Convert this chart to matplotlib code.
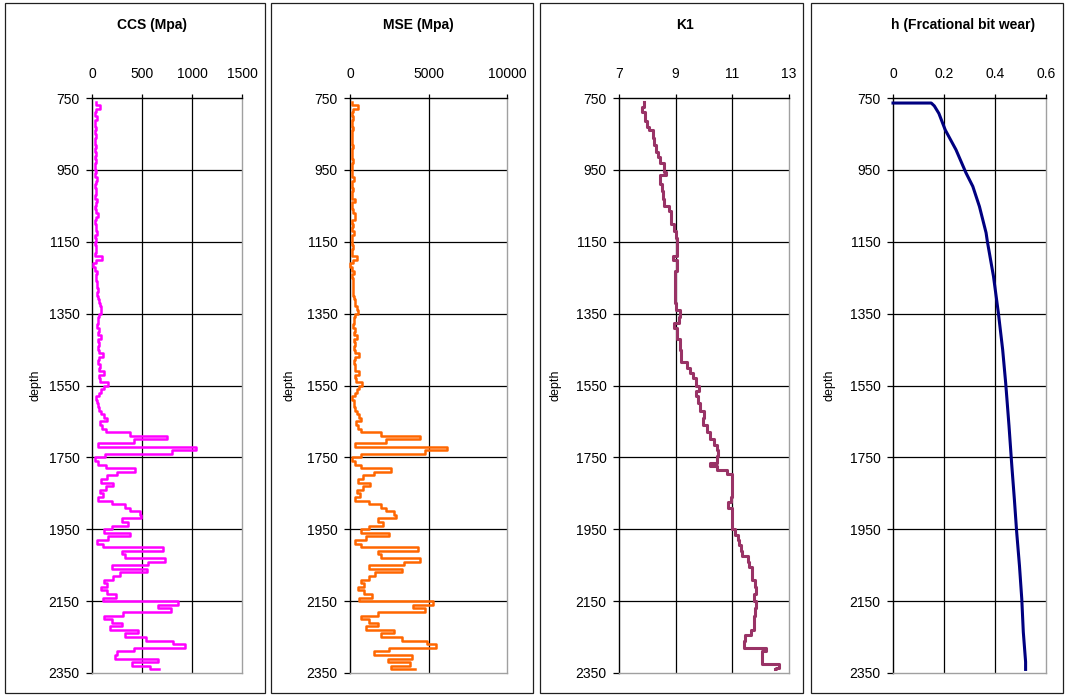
import numpy as np
import matplotlib.pyplot as plt
from matplotlib.patches import Rectangle

plt.rcParams['font.family'] = ['Liberation Sans', 'DejaVu Sans']

# depth samples for the CCS / MSE logs (every 10 m)
depth = np.arange(760, 2350, 10)

ccs = [40, 75, 35, 30, 45, 30, 25, 40, 30, 35,
       30, 25, 40, 30, 35, 30, 40, 30, 25, 35,
       30, 45, 35, 30, 40, 35, 30, 45, 35, 30,
       40, 60, 35, 30, 40, 35, 45, 30, 35, 30,
       40, 35, 30, 95, 40, 5, 30, 45, 35, 40,
       50, 45, 55, 50, 60, 70, 75, 85, 90, 70,
       55, 60, 50, 65, 55, 85, 60, 70, 55, 65,
       110, 70, 60, 75, 65, 120, 70, 80, 160, 120,
       90, 70, 40, 50, 60, 70, 90, 120, 150, 80,
       100, 140, 380, 750, 420, 60, 1040, 800, 130, 30,
       60, 140, 430, 250, 150, 90, 210, 140, 80, 110,
       60, 200, 330, 380, 480, 490, 300, 360, 200, 120,
       380, 160, 50, 110, 710, 300, 330, 730, 560, 200,
       550, 280, 210, 120, 150, 90, 150, 240, 110, 860,
       660, 790, 310, 120, 200, 300, 180, 460, 330, 540,
       810, 930, 420, 250, 230, 660, 400, 580, 670]

mse = [150, 500, 200, 120, 180, 130, 100, 160, 120, 140,
       120, 100, 160, 120, 140, 120, 160, 120, 100, 140,
       120, 250, 140, 120, 160, 140, 120, 300, 140, 120,
       160, 350, 300, 120, 200, 140, 250, 120, 140, 120,
       160, 140, 120, 450, 180, 20, 120, 250, 150, 180,
       200, 180, 220, 200, 250, 300, 350, 450, 500, 350,
       250, 280, 220, 300, 250, 420, 280, 320, 250, 300,
       560, 320, 280, 350, 300, 600, 330, 380, 750, 550,
       420, 320, 150, 230, 280, 320, 420, 600, 700, 380,
       480, 700, 2000, 4440, 2300, 300, 6180, 4750, 700, 150,
       300, 700, 2600, 1500, 800, 500, 1300, 800, 450, 650,
       350, 1200, 2000, 2300, 2800, 2930, 1800, 2100, 1200, 700,
       2460, 1000, 300, 700, 4330, 1800, 2000, 4440, 3440, 1200,
       3310, 1600, 1200, 700, 900, 500, 900, 1400, 600, 5290,
       4000, 4750, 1800, 700, 1200, 1800, 1000, 2800, 2000, 3300,
       4900, 5480, 2500, 1500, 3950, 2400, 3800, 2600, 4120]

k1_depth = [760, 775, 790, 800, 815, 830, 840, 860, 880, 900, 915, 930, 945,
            955, 965, 990, 1010, 1030, 1050, 1065, 1080, 1100, 1120, 1140,
            1160, 1180, 1190, 1200, 1230, 1260, 1290, 1320, 1340, 1360, 1375,
            1390, 1420, 1450, 1470, 1485, 1500, 1515, 1530, 1550, 1565, 1580,
            1600, 1620, 1640, 1660, 1680, 1700, 1715, 1730, 1745, 1765, 1775,
            1785, 1795, 1830, 1860, 1875, 1890, 1920, 1950, 1965, 1980, 1995,
            2010, 2025, 2040, 2055, 2070, 2090, 2110, 2130, 2150, 2170, 2190,
            2210, 2230, 2245, 2260, 2280, 2290, 2310, 2325, 2335, 2340]
k1 = [7.88, 7.82, 7.9, 7.92, 8.0, 8.05, 8.2, 8.25, 8.3, 8.38, 8.45, 8.6, 8.6,
      8.65, 8.45, 8.5, 8.55, 8.6, 8.75, 8.85, 8.85, 8.95, 9.0, 9.05,
      9.05, 9.05, 8.9, 9.05, 8.98, 8.98, 8.98, 9.0, 9.15, 9.1, 8.95,
      9.05, 9.15, 9.18, 9.2, 9.4, 9.5, 9.62, 9.7, 9.83, 9.7, 9.8,
      9.85, 10.0, 9.95, 10.1, 10.2, 10.35, 10.45, 10.5, 10.45, 10.2, 10.45,
      10.8, 11.0, 10.98, 10.95, 10.85, 11.0, 11.0, 11.1, 11.2, 11.25, 11.3,
      11.35, 11.55, 11.6, 11.68, 11.7, 11.8, 11.85, 11.78, 11.82, 11.8, 11.75,
      11.75, 11.65, 11.45, 11.4, 12.2, 12.05, 12.05, 12.65, 12.55, 12.5]

h_depth = [764, 764, 772, 793, 839, 894, 958, 996, 1052, 1125, 1149, 1246,
           1347, 1450, 1544, 1663, 1774, 1867, 1958, 2052, 2144, 2236, 2319, 2340]
h = [0.0, 0.15, 0.162, 0.18, 0.205, 0.247, 0.286, 0.313, 0.339, 0.365, 0.37,
     0.394, 0.413, 0.43, 0.442, 0.455, 0.466, 0.476, 0.485, 0.496, 0.505,
     0.511, 0.52, 0.52]

depth_ticks = [750, 950, 1150, 1350, 1550, 1750, 1950, 2150, 2350]

W, H = 1066, 696
fig = plt.figure(figsize=(W / 100, H / 100), dpi=100)

panels = [
    # frame px, axes px (x0, x1, y0, y1), title, title x, depth label x
    dict(frame=(5, 3, 265, 693), box=(92, 242, 98, 673), title='CCS (Mpa)', tx=152, lx=35,
         x=ccs, y=depth, color='#ff00ff', lw=1.8, steps=True,
         xlim=(0, 1500), xticks=[0, 500, 1000, 1500], xlabels=['0', '500', '1000', '1500']),
    dict(frame=(271, 3, 533, 693), box=(350, 507, 98, 673), title='MSE (Mpa)', tx=418, lx=289,
         x=mse, y=depth, color='#ff6600', lw=1.8, steps=True,
         xlim=(0, 10000), xticks=[0, 5000, 10000], xlabels=['0', '5000', '10000']),
    dict(frame=(540, 3, 803, 693), box=(619, 789, 98, 673), title='K1', tx=685, lx=555,
         x=k1, y=k1_depth, color='#993366', lw=2.2, steps=True,
         xlim=(7, 13), xticks=[7, 9, 11, 13], xlabels=['7', '9', '11', '13']),
    dict(frame=(811, 3, 1063, 693), box=(893, 1046, 98, 673), title='h (Frcational bit wear)', tx=963, lx=829,
         x=h, y=h_depth, color='#000080', lw=2.2, steps=False,
         xlim=(0, 0.6), xticks=[0, 0.2, 0.4, 0.6], xlabels=['0', '0.2', '0.4', '0.6']),
]

for p in panels:
    fx0, fy0, fx1, fy1 = p['frame']
    fig.add_artist(Rectangle((fx0 / W, 1 - fy1 / H), (fx1 - fx0) / W, (fy1 - fy0) / H,
                             transform=fig.transFigure, fill=False, edgecolor='#202020', lw=0.9))
    x0, x1, y0, y1 = p['box']
    ax = fig.add_axes([x0 / W, 1 - y1 / H, (x1 - x0) / W, (y1 - y0) / H])

    # interior grid lines
    for t in p['xticks'][1:-1]:
        ax.axvline(t, color='black', lw=0.9, zorder=1)
    for t in depth_ticks[1:-1]:
        ax.axhline(t, color='black', lw=0.9, zorder=1)

    ax.plot(p['x'], p['y'], color=p['color'], lw=p['lw'], zorder=3, clip_on=False,
            drawstyle='steps-pre' if p['steps'] else 'default')

    ax.set_xlim(*p['xlim'])
    ax.set_ylim(2350, 750)
    ax.set_xticks(p['xticks'])
    ax.set_xticklabels(p['xlabels'])
    ax.set_yticks(depth_ticks)
    ax.xaxis.tick_top()
    ax.tick_params(axis='x', direction='out', length=3, pad=9, labelsize=10, width=0.9)
    ax.tick_params(axis='y', direction='out', length=4, pad=5, labelsize=10, width=0.9)
    ax.spines['top'].set_color('black')
    ax.spines['left'].set_color('black')
    ax.spines['right'].set_color('#a0a0a0')
    ax.spines['bottom'].set_color('#a0a0a0')
    for s in ax.spines.values():
        s.set_linewidth(1.0)

    fig.text(p['tx'] / W, 1 - 25 / H, p['title'], ha='center', va='center',
             fontsize=10, fontweight='bold')
    fig.text(p['lx'] / W, 1 - 385 / H, 'depth', ha='center', va='center',
             rotation=90, fontsize=9)

fig.savefig('out.png', dpi=100)
